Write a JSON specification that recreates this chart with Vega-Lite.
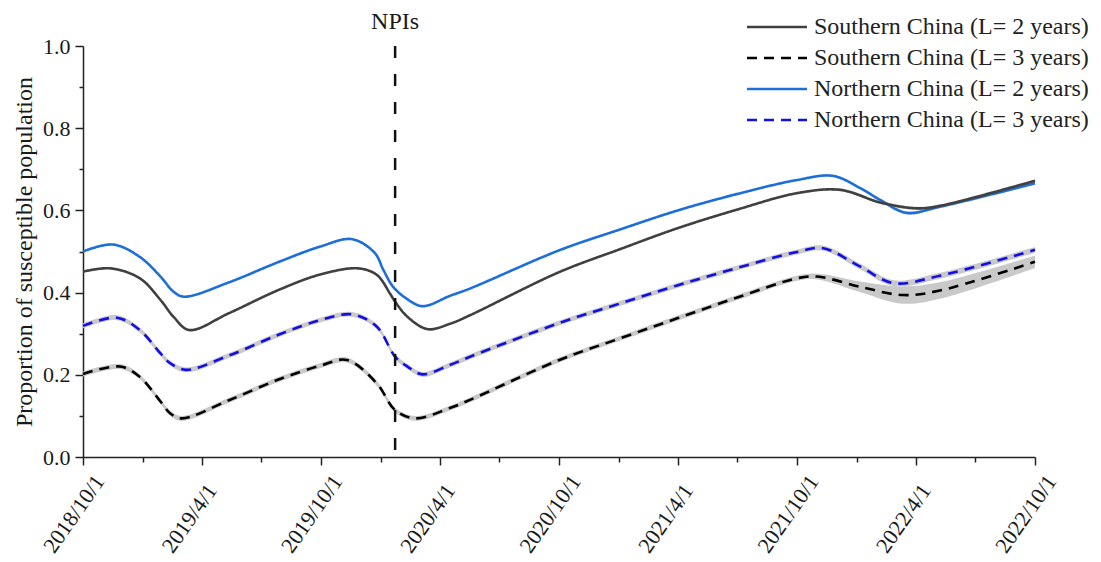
{
  "$schema": "https://vega.github.io/schema/vega-lite/v6.json",
  "width": 952,
  "height": 411,
  "autosize": {"type": "none"},
  "padding": {"left": 83, "top": 46, "right": 66, "bottom": 105},
  "background": "white",
  "config": {"font": "Liberation Serif", "view": {"stroke": null}, "axis": {"labelFont": "Liberation Serif", "titleFont": "Liberation Serif"}, "legend": {"labelFont": "Liberation Serif"}, "text": {"font": "Liberation Serif"}},
  "datasets": {
    "curves": [
      {"d": "2018-10-01T00:00:00", "s": "Northern China (L= 2 years)", "v": 0.500, "lo": 0.498, "hi": 0.502},
      {"d": "2018-11-16T00:00:00", "s": "Northern China (L= 2 years)", "v": 0.517, "lo": 0.515, "hi": 0.519},
      {"d": "2018-12-27T00:00:00", "s": "Northern China (L= 2 years)", "v": 0.487, "lo": 0.485, "hi": 0.489},
      {"d": "2019-01-28T00:00:00", "s": "Northern China (L= 2 years)", "v": 0.439, "lo": 0.437, "hi": 0.441},
      {"d": "2019-02-17T00:00:00", "s": "Northern China (L= 2 years)", "v": 0.402, "lo": 0.400, "hi": 0.404},
      {"d": "2019-03-05T00:00:00", "s": "Northern China (L= 2 years)", "v": 0.390, "lo": 0.388, "hi": 0.392},
      {"d": "2019-05-13T00:00:00", "s": "Northern China (L= 2 years)", "v": 0.425, "lo": 0.423, "hi": 0.427},
      {"d": "2019-07-29T00:00:00", "s": "Northern China (L= 2 years)", "v": 0.475, "lo": 0.473, "hi": 0.477},
      {"d": "2019-09-30T00:00:00", "s": "Northern China (L= 2 years)", "v": 0.512, "lo": 0.510, "hi": 0.514},
      {"d": "2019-11-18T00:00:00", "s": "Northern China (L= 2 years)", "v": 0.530, "lo": 0.528, "hi": 0.532},
      {"d": "2019-12-23T00:00:00", "s": "Northern China (L= 2 years)", "v": 0.496, "lo": 0.494, "hi": 0.498},
      {"d": "2020-01-05T00:00:00", "s": "Northern China (L= 2 years)", "v": 0.455, "lo": 0.453, "hi": 0.457},
      {"d": "2020-01-20T00:00:00", "s": "Northern China (L= 2 years)", "v": 0.414, "lo": 0.412, "hi": 0.416},
      {"d": "2020-02-08T00:00:00", "s": "Northern China (L= 2 years)", "v": 0.387, "lo": 0.385, "hi": 0.389},
      {"d": "2020-03-05T00:00:00", "s": "Northern China (L= 2 years)", "v": 0.367, "lo": 0.365, "hi": 0.369},
      {"d": "2020-04-16T00:00:00", "s": "Northern China (L= 2 years)", "v": 0.392, "lo": 0.390, "hi": 0.394},
      {"d": "2020-05-17T00:00:00", "s": "Northern China (L= 2 years)", "v": 0.410, "lo": 0.408, "hi": 0.412},
      {"d": "2020-10-01T00:00:00", "s": "Northern China (L= 2 years)", "v": 0.503, "lo": 0.501, "hi": 0.505},
      {"d": "2021-01-01T00:00:00", "s": "Northern China (L= 2 years)", "v": 0.553, "lo": 0.551, "hi": 0.555},
      {"d": "2021-04-01T00:00:00", "s": "Northern China (L= 2 years)", "v": 0.600, "lo": 0.598, "hi": 0.602},
      {"d": "2021-07-01T00:00:00", "s": "Northern China (L= 2 years)", "v": 0.640, "lo": 0.638, "hi": 0.642},
      {"d": "2021-10-01T00:00:00", "s": "Northern China (L= 2 years)", "v": 0.674, "lo": 0.672, "hi": 0.676},
      {"d": "2021-11-25T00:00:00", "s": "Northern China (L= 2 years)", "v": 0.684, "lo": 0.682, "hi": 0.686},
      {"d": "2022-01-06T00:00:00", "s": "Northern China (L= 2 years)", "v": 0.654, "lo": 0.651, "hi": 0.657},
      {"d": "2022-02-06T00:00:00", "s": "Northern China (L= 2 years)", "v": 0.625, "lo": 0.621, "hi": 0.629},
      {"d": "2022-03-18T00:00:00", "s": "Northern China (L= 2 years)", "v": 0.594, "lo": 0.590, "hi": 0.598},
      {"d": "2022-05-08T00:00:00", "s": "Northern China (L= 2 years)", "v": 0.609, "lo": 0.605, "hi": 0.613},
      {"d": "2022-10-01T00:00:00", "s": "Northern China (L= 2 years)", "v": 0.666, "lo": 0.662, "hi": 0.670},

      {"d": "2018-10-01T00:00:00", "s": "Southern China (L= 2 years)", "v": 0.451, "lo": 0.449, "hi": 0.453},
      {"d": "2018-11-12T00:00:00", "s": "Southern China (L= 2 years)", "v": 0.459, "lo": 0.457, "hi": 0.461},
      {"d": "2018-12-27T00:00:00", "s": "Southern China (L= 2 years)", "v": 0.435, "lo": 0.433, "hi": 0.437},
      {"d": "2019-01-28T00:00:00", "s": "Southern China (L= 2 years)", "v": 0.382, "lo": 0.380, "hi": 0.384},
      {"d": "2019-02-17T00:00:00", "s": "Southern China (L= 2 years)", "v": 0.341, "lo": 0.339, "hi": 0.343},
      {"d": "2019-03-13T00:00:00", "s": "Southern China (L= 2 years)", "v": 0.309, "lo": 0.307, "hi": 0.311},
      {"d": "2019-05-13T00:00:00", "s": "Southern China (L= 2 years)", "v": 0.350, "lo": 0.348, "hi": 0.352},
      {"d": "2019-07-29T00:00:00", "s": "Southern China (L= 2 years)", "v": 0.407, "lo": 0.405, "hi": 0.409},
      {"d": "2019-09-30T00:00:00", "s": "Southern China (L= 2 years)", "v": 0.444, "lo": 0.442, "hi": 0.446},
      {"d": "2019-11-27T00:00:00", "s": "Southern China (L= 2 years)", "v": 0.459, "lo": 0.457, "hi": 0.461},
      {"d": "2019-12-26T00:00:00", "s": "Southern China (L= 2 years)", "v": 0.443, "lo": 0.441, "hi": 0.445},
      {"d": "2020-01-15T00:00:00", "s": "Southern China (L= 2 years)", "v": 0.398, "lo": 0.396, "hi": 0.400},
      {"d": "2020-01-23T00:00:00", "s": "Southern China (L= 2 years)", "v": 0.378, "lo": 0.376, "hi": 0.380},
      {"d": "2020-02-11T00:00:00", "s": "Southern China (L= 2 years)", "v": 0.341, "lo": 0.339, "hi": 0.343},
      {"d": "2020-03-13T00:00:00", "s": "Southern China (L= 2 years)", "v": 0.311, "lo": 0.309, "hi": 0.313},
      {"d": "2020-04-16T00:00:00", "s": "Southern China (L= 2 years)", "v": 0.324, "lo": 0.322, "hi": 0.326},
      {"d": "2020-05-17T00:00:00", "s": "Southern China (L= 2 years)", "v": 0.345, "lo": 0.343, "hi": 0.347},
      {"d": "2020-10-01T00:00:00", "s": "Southern China (L= 2 years)", "v": 0.450, "lo": 0.448, "hi": 0.452},
      {"d": "2021-01-01T00:00:00", "s": "Southern China (L= 2 years)", "v": 0.505, "lo": 0.503, "hi": 0.507},
      {"d": "2021-04-01T00:00:00", "s": "Southern China (L= 2 years)", "v": 0.557, "lo": 0.555, "hi": 0.559},
      {"d": "2021-07-01T00:00:00", "s": "Southern China (L= 2 years)", "v": 0.602, "lo": 0.600, "hi": 0.604},
      {"d": "2021-10-01T00:00:00", "s": "Southern China (L= 2 years)", "v": 0.642, "lo": 0.640, "hi": 0.644},
      {"d": "2021-12-06T00:00:00", "s": "Southern China (L= 2 years)", "v": 0.650, "lo": 0.647, "hi": 0.653},
      {"d": "2022-02-06T00:00:00", "s": "Southern China (L= 2 years)", "v": 0.619, "lo": 0.615, "hi": 0.623},
      {"d": "2022-04-03T00:00:00", "s": "Southern China (L= 2 years)", "v": 0.605, "lo": 0.601, "hi": 0.609},
      {"d": "2022-05-08T00:00:00", "s": "Southern China (L= 2 years)", "v": 0.611, "lo": 0.607, "hi": 0.615},
      {"d": "2022-10-01T00:00:00", "s": "Southern China (L= 2 years)", "v": 0.672, "lo": 0.668, "hi": 0.676},

      {"d": "2018-10-01T00:00:00", "s": "Northern China (L= 3 years)", "v": 0.319, "lo": 0.313, "hi": 0.325},
      {"d": "2018-11-22T00:00:00", "s": "Northern China (L= 3 years)", "v": 0.339, "lo": 0.333, "hi": 0.345},
      {"d": "2018-12-27T00:00:00", "s": "Northern China (L= 3 years)", "v": 0.309, "lo": 0.303, "hi": 0.315},
      {"d": "2019-01-28T00:00:00", "s": "Northern China (L= 3 years)", "v": 0.252, "lo": 0.246, "hi": 0.258},
      {"d": "2019-02-12T00:00:00", "s": "Northern China (L= 3 years)", "v": 0.228, "lo": 0.222, "hi": 0.234},
      {"d": "2019-03-08T00:00:00", "s": "Northern China (L= 3 years)", "v": 0.212, "lo": 0.206, "hi": 0.218},
      {"d": "2019-05-13T00:00:00", "s": "Northern China (L= 3 years)", "v": 0.247, "lo": 0.241, "hi": 0.253},
      {"d": "2019-07-29T00:00:00", "s": "Northern China (L= 3 years)", "v": 0.298, "lo": 0.292, "hi": 0.304},
      {"d": "2019-09-30T00:00:00", "s": "Northern China (L= 3 years)", "v": 0.333, "lo": 0.327, "hi": 0.339},
      {"d": "2019-11-18T00:00:00", "s": "Northern China (L= 3 years)", "v": 0.347, "lo": 0.341, "hi": 0.353},
      {"d": "2019-12-26T00:00:00", "s": "Northern China (L= 3 years)", "v": 0.317, "lo": 0.311, "hi": 0.323},
      {"d": "2020-01-23T00:00:00", "s": "Northern China (L= 3 years)", "v": 0.244, "lo": 0.238, "hi": 0.250},
      {"d": "2020-02-11T00:00:00", "s": "Northern China (L= 3 years)", "v": 0.220, "lo": 0.214, "hi": 0.226},
      {"d": "2020-03-05T00:00:00", "s": "Northern China (L= 3 years)", "v": 0.201, "lo": 0.195, "hi": 0.207},
      {"d": "2020-04-16T00:00:00", "s": "Northern China (L= 3 years)", "v": 0.224, "lo": 0.218, "hi": 0.230},
      {"d": "2020-05-17T00:00:00", "s": "Northern China (L= 3 years)", "v": 0.244, "lo": 0.238, "hi": 0.250},
      {"d": "2020-10-01T00:00:00", "s": "Northern China (L= 3 years)", "v": 0.326, "lo": 0.320, "hi": 0.332},
      {"d": "2021-01-01T00:00:00", "s": "Northern China (L= 3 years)", "v": 0.373, "lo": 0.367, "hi": 0.379},
      {"d": "2021-04-01T00:00:00", "s": "Northern China (L= 3 years)", "v": 0.418, "lo": 0.412, "hi": 0.424},
      {"d": "2021-07-01T00:00:00", "s": "Northern China (L= 3 years)", "v": 0.460, "lo": 0.454, "hi": 0.466},
      {"d": "2021-10-01T00:00:00", "s": "Northern China (L= 3 years)", "v": 0.499, "lo": 0.493, "hi": 0.505},
      {"d": "2021-11-10T00:00:00", "s": "Northern China (L= 3 years)", "v": 0.508, "lo": 0.502, "hi": 0.514},
      {"d": "2022-01-06T00:00:00", "s": "Northern China (L= 3 years)", "v": 0.463, "lo": 0.456, "hi": 0.470},
      {"d": "2022-02-26T00:00:00", "s": "Northern China (L= 3 years)", "v": 0.423, "lo": 0.416, "hi": 0.430},
      {"d": "2022-05-08T00:00:00", "s": "Northern China (L= 3 years)", "v": 0.441, "lo": 0.434, "hi": 0.448},
      {"d": "2022-10-01T00:00:00", "s": "Northern China (L= 3 years)", "v": 0.504, "lo": 0.497, "hi": 0.511},

      {"d": "2018-10-01T00:00:00", "s": "Southern China (L= 3 years)", "v": 0.202, "lo": 0.196, "hi": 0.208},
      {"d": "2018-11-27T00:00:00", "s": "Southern China (L= 3 years)", "v": 0.220, "lo": 0.214, "hi": 0.226},
      {"d": "2018-12-27T00:00:00", "s": "Southern China (L= 3 years)", "v": 0.195, "lo": 0.189, "hi": 0.201},
      {"d": "2019-01-28T00:00:00", "s": "Southern China (L= 3 years)", "v": 0.135, "lo": 0.129, "hi": 0.141},
      {"d": "2019-02-12T00:00:00", "s": "Southern China (L= 3 years)", "v": 0.106, "lo": 0.100, "hi": 0.112},
      {"d": "2019-03-02T00:00:00", "s": "Southern China (L= 3 years)", "v": 0.094, "lo": 0.088, "hi": 0.100},
      {"d": "2019-05-13T00:00:00", "s": "Southern China (L= 3 years)", "v": 0.138, "lo": 0.132, "hi": 0.144},
      {"d": "2019-07-29T00:00:00", "s": "Southern China (L= 3 years)", "v": 0.189, "lo": 0.183, "hi": 0.195},
      {"d": "2019-09-30T00:00:00", "s": "Southern China (L= 3 years)", "v": 0.222, "lo": 0.216, "hi": 0.228},
      {"d": "2019-11-10T00:00:00", "s": "Southern China (L= 3 years)", "v": 0.236, "lo": 0.230, "hi": 0.242},
      {"d": "2019-12-26T00:00:00", "s": "Southern China (L= 3 years)", "v": 0.179, "lo": 0.173, "hi": 0.185},
      {"d": "2020-01-23T00:00:00", "s": "Southern China (L= 3 years)", "v": 0.114, "lo": 0.108, "hi": 0.120},
      {"d": "2020-02-23T00:00:00", "s": "Southern China (L= 3 years)", "v": 0.094, "lo": 0.088, "hi": 0.100},
      {"d": "2020-04-16T00:00:00", "s": "Southern China (L= 3 years)", "v": 0.119, "lo": 0.113, "hi": 0.125},
      {"d": "2020-05-17T00:00:00", "s": "Southern China (L= 3 years)", "v": 0.139, "lo": 0.133, "hi": 0.145},
      {"d": "2020-10-01T00:00:00", "s": "Southern China (L= 3 years)", "v": 0.236, "lo": 0.230, "hi": 0.242},
      {"d": "2021-01-01T00:00:00", "s": "Southern China (L= 3 years)", "v": 0.288, "lo": 0.282, "hi": 0.294},
      {"d": "2021-04-01T00:00:00", "s": "Southern China (L= 3 years)", "v": 0.338, "lo": 0.332, "hi": 0.344},
      {"d": "2021-07-01T00:00:00", "s": "Southern China (L= 3 years)", "v": 0.388, "lo": 0.382, "hi": 0.394},
      {"d": "2021-10-01T00:00:00", "s": "Southern China (L= 3 years)", "v": 0.435, "lo": 0.429, "hi": 0.441},
      {"d": "2021-11-01T00:00:00", "s": "Southern China (L= 3 years)", "v": 0.439, "lo": 0.432, "hi": 0.446},
      {"d": "2022-01-06T00:00:00", "s": "Southern China (L= 3 years)", "v": 0.414, "lo": 0.401, "hi": 0.427},
      {"d": "2022-03-12T00:00:00", "s": "Southern China (L= 3 years)", "v": 0.394, "lo": 0.373, "hi": 0.415},
      {"d": "2022-05-08T00:00:00", "s": "Southern China (L= 3 years)", "v": 0.405, "lo": 0.385, "hi": 0.425},
      {"d": "2022-10-01T00:00:00", "s": "Southern China (L= 3 years)", "v": 0.475, "lo": 0.460, "hi": 0.490}
    ],
    "events": [
      {"d": "2020-01-23T00:00:00", "label": "NPIs"}
    ]
  },
  "layer": [
    {
      "data": {"name": "curves"},
      "mark": {"type": "area", "interpolate": "catmull-rom", "color": "#c9c9c9", "opacity": 1},
      "encoding": {
        "x": {
          "field": "d", "type": "temporal", "title": null,
          "scale": {"domain": [{"year": 2018, "month": 10, "date": 1}, {"year": 2022, "month": 10, "date": 1}]},
          "axis": {
            "values": [
              {"year": 2018, "month": 10, "date": 1},
              {"year": 2019, "month": 1, "date": 1}, {"year": 2019, "month": 4, "date": 1}, {"year": 2019, "month": 7, "date": 1}, {"year": 2019, "month": 10, "date": 1},
              {"year": 2020, "month": 1, "date": 1}, {"year": 2020, "month": 4, "date": 1}, {"year": 2020, "month": 7, "date": 1}, {"year": 2020, "month": 10, "date": 1},
              {"year": 2021, "month": 1, "date": 1}, {"year": 2021, "month": 4, "date": 1}, {"year": 2021, "month": 7, "date": 1}, {"year": 2021, "month": 10, "date": 1},
              {"year": 2022, "month": 1, "date": 1}, {"year": 2022, "month": 4, "date": 1}, {"year": 2022, "month": 7, "date": 1}, {"year": 2022, "month": 10, "date": 1}
            ],
            "labelExpr": "month(datum.value) % 6 == 3 ? timeFormat(datum.value, '%Y/%-m/%-d') : ''",
            "labelAngle": -55, "labelAlign": "left", "labelBaseline": "middle",
            "labelFont": "Liberation Serif", "labelFontSize": 22, "labelColor": "#1a1a1a", "labelPadding": 85, "labelOffset": -35,
            "labelOverlap": false, "labelFlush": false, "labelBound": false,
            "tickSize": {"condition": {"test": "month(datum.value) % 6 == 3", "value": 8}, "value": 5},
            "tickColor": "#222222", "tickWidth": 1.5, "domainColor": "#222222", "domainWidth": 1.5, "grid": false
          }
        },
        "y": {
          "field": "lo", "type": "quantitative", "title": "Proportion of susceptible population",
          "scale": {"domain": [0, 1], "nice": false, "zero": false},
          "axis": {
            "values": [0, 0.1, 0.2, 0.3, 0.4, 0.5, 0.6, 0.7, 0.8, 0.9, 1.0],
            "labelExpr": "round(datum.value * 10) % 2 == 0 ? format(datum.value, '.1f') : ''",
            "tickSize": {"condition": {"test": "round(datum.value * 10) % 2 == 0", "value": 8}, "value": 4},
            "labelFont": "Liberation Serif", "labelFontSize": 22, "labelColor": "#1a1a1a", "labelPadding": 5,
            "titleFont": "Liberation Serif", "titleFontSize": 24, "titleFontWeight": "normal", "titleColor": "#1a1a1a", "titlePadding": 6,
            "tickColor": "#222222", "tickWidth": 1.5, "domainColor": "#222222", "domainWidth": 1.5, "grid": false, "labelOverlap": false
          }
        },
        "y2": {"field": "hi"},
        "detail": {"field": "s", "type": "nominal"}
      }
    },
    {
      "data": {"name": "curves"},
      "mark": {"type": "line", "interpolate": "catmull-rom", "strokeWidth": 2.6},
      "encoding": {
        "x": {"field": "d", "type": "temporal", "title": null},
        "y": {"field": "v", "type": "quantitative", "title": "Proportion of susceptible population"},
        "color": {
          "field": "s", "type": "nominal",
          "scale": {
            "domain": ["Southern China (L= 2 years)", "Southern China (L= 3 years)", "Northern China (L= 2 years)", "Northern China (L= 3 years)"],
            "range": ["#404040", "#000000", "#1c6fd8", "#1010e6"]
          },
          "legend": {
            "orient": "none", "legendX": 682, "legendY": -31, "title": null, "padding": 0,
            "symbolType": "M-3,0H3", "symbolSize": 400, "symbolStrokeWidth": 2.6,
            "labelFont": "Liberation Serif", "labelFontSize": 24, "labelColor": "#222222", "labelOffset": 25, "rowPadding": 7, "labelLimit": 400,
            "encode": {"symbols": {"update": {"strokeDash": {"signal": "indexof(datum.value, '3 years') >= 0 ? [16, 13] : [1, 0]"}}}}
          }
        },
        "strokeDash": {
          "field": "s", "type": "nominal",
          "scale": {
            "domain": ["Southern China (L= 2 years)", "Southern China (L= 3 years)", "Northern China (L= 2 years)", "Northern China (L= 3 years)"],
            "range": [[1, 0], [10, 7], [1, 0], [10, 7]]
          },
          "legend": {
            "orient": "none", "legendX": 682, "legendY": -31, "title": null, "padding": 0,
            "symbolType": "M-3,0H3", "symbolSize": 400, "symbolStrokeWidth": 2.6,
            "labelFont": "Liberation Serif", "labelFontSize": 24, "labelColor": "#222222", "labelOffset": 25, "rowPadding": 7, "labelLimit": 400,
            "encode": {"symbols": {"update": {"strokeDash": {"signal": "indexof(datum.value, '3 years') >= 0 ? [16, 13] : [1, 0]"}}}}
          }
        }
      }
    },
    {
      "data": {"name": "events"},
      "mark": {"type": "rule", "color": "#111111", "strokeWidth": 2.5, "strokeDash": [12, 16]},
      "encoding": {
        "x": {"field": "d", "type": "temporal", "title": null}
      }
    },
    {
      "data": {"name": "events"},
      "mark": {"type": "text", "font": "Liberation Serif", "fontSize": 24, "color": "#1a1a1a", "dy": -24, "baseline": "middle", "align": "center"},
      "encoding": {
        "x": {"field": "d", "type": "temporal", "title": null},
        "y": {"datum": 1},
        "text": {"field": "label"}
      }
    }
  ]
}
